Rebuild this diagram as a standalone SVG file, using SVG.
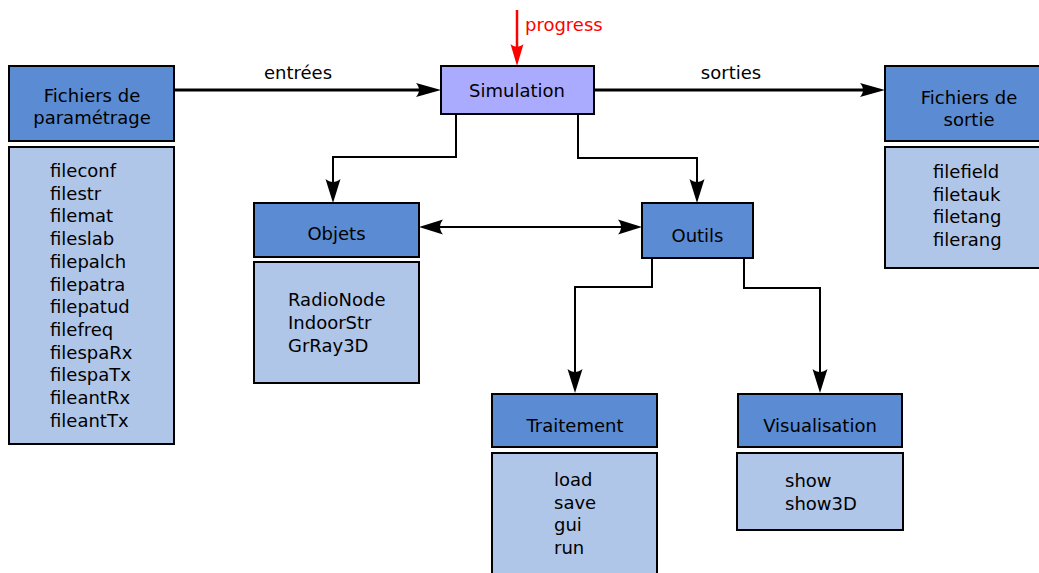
<svg xmlns="http://www.w3.org/2000/svg" width="1039" height="573" viewBox="0 0 1039 573">
<style>
text{font-family:"DejaVu Sans",sans-serif;font-size:18px;fill:#000}
.c{text-anchor:middle}
.hd{fill:#5b8bd2;stroke:#000;stroke-width:2}
.bd{fill:#b0c6e8;stroke:#000;stroke-width:2}
.sim{fill:#aaaaff;stroke:#000;stroke-width:2}
.main{fill:none;stroke:#000;stroke-width:3}
.cn{fill:none;stroke:#000;stroke-width:2}
.red{fill:none;stroke:#ff0000;stroke-width:2.5}
</style>
<defs>
<marker id="ah" markerUnits="userSpaceOnUse" orient="auto" refX="0" refY="0" markerWidth="40" markerHeight="40" overflow="visible">
<path d="M8,0 L-17,-7 C-13,-2.5 -13,2.5 -17,7 Z" fill="#000"/>
</marker>
<marker id="ahs" markerUnits="userSpaceOnUse" orient="auto" refX="0" refY="0" markerWidth="40" markerHeight="40" overflow="visible">
<path d="M6,0 L-18,-7.5 C-14,-2.6 -14,2.6 -18,7.5 Z" fill="#000"/>
</marker>
<marker id="ahr" markerUnits="userSpaceOnUse" orient="auto" refX="0" refY="0" markerWidth="40" markerHeight="40" overflow="visible">
<path d="M6,0 L-16,-6.5 C-12.5,-2.3 -12.5,2.3 -16,6.5 Z" fill="#ff0000"/>
</marker>
<marker id="ahb" markerUnits="userSpaceOnUse" orient="auto-start-reverse" refX="0" refY="0" markerWidth="40" markerHeight="40" overflow="visible">
<path d="M6,0 L-18,-7.5 C-14,-2.5 -14,2.5 -18,7.5 Z" fill="#000"/>
</marker>
</defs>

<g id="connectors">
<path class="main" d="M174,90 H433" marker-end="url(#ah)"/>
<text class="c" x="298" y="79">entrées</text>
<path class="main" d="M594,90 H877" marker-end="url(#ah)"/>
<text class="c" x="731" y="79">sorties</text>
<path class="red" d="M517,10 V60" marker-end="url(#ahr)"/>
<text x="525" y="31" style="fill:#ff0000">progress</text>
<path class="cn" d="M456,114 V157 H333 V197" marker-end="url(#ahs)"/>
<path class="cn" d="M578,114 V158 H697 V197" marker-end="url(#ahs)"/>
<path class="cn" d="M425,227 H636" marker-start="url(#ahb)" marker-end="url(#ahb)"/>
<path class="cn" d="M652,258 V287 H575 V387" marker-end="url(#ahs)"/>
<path class="cn" d="M744,258 V288 H820 V387" marker-end="url(#ahs)"/>
</g>

<g id="param">
<rect class="hd" x="9" y="66" width="165" height="75"/>
<text class="c" x="92" y="102">Fichiers de</text>
<text class="c" x="92" y="124">paramétrage</text>
<rect class="bd" x="9" y="147" width="165" height="297"/>
<text x="50" y="177">fileconf</text>
<text x="50" y="199.7">filestr</text>
<text x="50" y="222.4">filemat</text>
<text x="50" y="245.1">fileslab</text>
<text x="50" y="267.8">filepalch</text>
<text x="50" y="290.5">filepatra</text>
<text x="50" y="313.2">filepatud</text>
<text x="50" y="335.9">filefreq</text>
<text x="50" y="358.6">filespaRx</text>
<text x="50" y="381.3">filespaTx</text>
<text x="50" y="404">fileantRx</text>
<text x="50" y="426.7">fileantTx</text>
</g>

<g id="simulation">
<rect class="sim" x="441" y="66" width="153" height="48"/>
<text class="c" x="517" y="97">Simulation</text>
</g>

<g id="sortie">
<rect class="hd" x="885" y="66" width="168" height="75"/>
<text class="c" x="969" y="104">Fichiers de</text>
<text class="c" x="969" y="126">sortie</text>
<rect class="bd" x="885" y="147" width="168" height="121"/>
<text x="933" y="178">filefield</text>
<text x="933" y="200.5">filetauk</text>
<text x="933" y="223">filetang</text>
<text x="933" y="245.5">filerang</text>
</g>

<g id="objets">
<rect class="hd" x="254" y="203" width="165" height="54"/>
<text class="c" x="336.5" y="240">Objets</text>
<rect class="bd" x="254" y="262" width="165" height="121"/>
<text x="288" y="306">RadioNode</text>
<text x="288" y="329">IndoorStr</text>
<text x="288" y="352">GrRay3D</text>
</g>

<g id="outils">
<rect class="hd" x="642" y="203" width="111" height="55"/>
<text class="c" x="697.5" y="242">Outils</text>
</g>

<g id="traitement">
<rect class="hd" x="492" y="394" width="165" height="53"/>
<text class="c" x="575" y="432">Traitement</text>
<rect class="bd" x="492" y="453" width="165" height="130"/>
<text x="554" y="486">load</text>
<text x="554" y="508.7">save</text>
<text x="554" y="531.4">gui</text>
<text x="554" y="554.1">run</text>
</g>

<g id="visualisation">
<rect class="hd" x="738" y="394" width="164" height="53"/>
<text class="c" x="820" y="432">Visualisation</text>
<rect class="bd" x="737" y="453" width="166" height="77"/>
<text x="785" y="487">show</text>
<text x="785" y="509.5">show3D</text>
</g>
</svg>
